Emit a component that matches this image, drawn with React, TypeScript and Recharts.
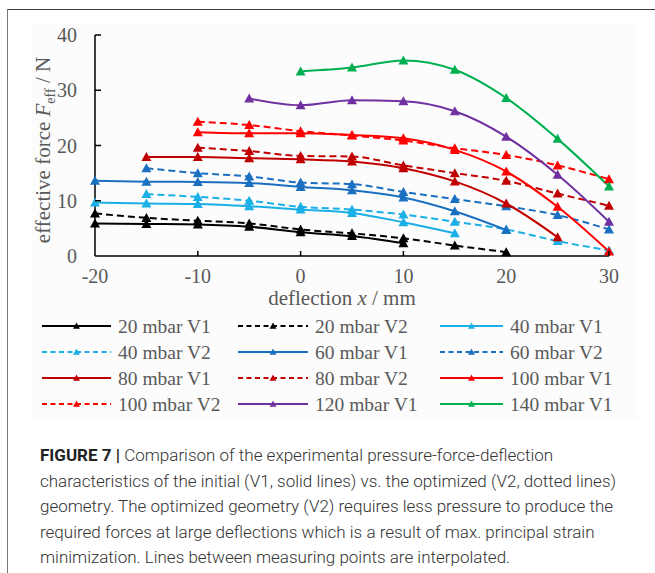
import React from 'react';
import { LineChart, Line, XAxis, YAxis } from 'recharts';

// deflection x in mm
const deflection = [-20, -15, -10, -5, 0, 5, 10, 15, 20, 25, 30];

// effective force in N, null where nothing was measured
const f20V1 = [5.9, 5.8, 5.7, 5.3, 4.3, 3.6, 2.3, null, null, null, null];
const f20V2 = [7.7, 6.9, 6.4, 5.9, 4.8, 4.1, 3.2, 1.9, 0.7, null, null];
const f40V1 = [9.7, 9.5, 9.4, 9.0, 8.4, 7.8, 6.1, 4.1, null, null, null];
const f40V2 = [null, 11.2, 10.7, 10.0, 8.9, 8.4, 7.5, 6.2, 4.8, 2.7, 1.0];
const f60V1 = [13.6, 13.45, 13.4, 13.2, 12.5, 11.9, 10.6, 8.1, 4.7, null, null];
const f60V2 = [null, 15.9, 15.0, 14.4, 13.3, 13.0, 11.6, 10.3, 9.0, 7.4, 4.8];
const f80V1 = [null, 17.9, 17.9, 17.7, 17.5, 17.1, 15.9, 13.5, 9.5, 3.4, null];
const f80V2 = [null, null, 19.6, 19.0, 18.1, 18.0, 16.4, 15.0, 13.6, 11.3, 9.1];
const f100V1 = [null, null, 22.4, 22.2, 22.2, 21.9, 21.3, 19.2, 15.3, 8.9, 0.8];
const f100V2 = [null, null, 24.3, 23.7, 22.6, 21.8, 20.9, 19.5, 18.3, 16.4, 13.9];
const f120V1 = [null, null, null, 28.5, 27.3, 28.2, 28.0, 26.2, 21.6, 14.7, 6.2];
const f140V1 = [null, null, null, null, 33.4, 34.1, 35.4, 33.7, 28.6, 21.2, 12.6];

const xTicks = [-20, -10, 0, 10, 20, 30];
const yTicks = [0, 10, 20, 30, 40];

const series = [
  { key: 's20V1', name: '20 mbar V1', values: f20V1, color: '#000000', dashed: false },
  { key: 's20V2', name: '20 mbar V2', values: f20V2, color: '#000000', dashed: true },
  { key: 's40V1', name: '40 mbar V1', values: f40V1, color: '#1aafe6', dashed: false },
  { key: 's40V2', name: '40 mbar V2', values: f40V2, color: '#1aafe6', dashed: true },
  { key: 's60V1', name: '60 mbar V1', values: f60V1, color: '#1b6fc0', dashed: false },
  { key: 's60V2', name: '60 mbar V2', values: f60V2, color: '#1b6fc0', dashed: true },
  { key: 's80V1', name: '80 mbar V1', values: f80V1, color: '#c00000', dashed: false },
  { key: 's80V2', name: '80 mbar V2', values: f80V2, color: '#c00000', dashed: true },
  { key: 's100V1', name: '100 mbar V1', values: f100V1, color: '#ff0000', dashed: false },
  { key: 's100V2', name: '100 mbar V2', values: f100V2, color: '#ff0000', dashed: true },
  { key: 's120V1', name: '120 mbar V1', values: f120V1, color: '#7030a0', dashed: false },
  { key: 's140V1', name: '140 mbar V1', values: f140V1, color: '#00b050', dashed: false },
];

const chartData = deflection.map((x, i) => {
  const row: Record<string, number | null> = { x };
  series.forEach((s) => {
    row[s.key] = s.values[i];
  });
  return row;
});

const serif = '"Liberation Serif", "DejaVu Serif", serif';
const grey = '#595959';

const Triangle = (props: any) => {
  const { cx, cy, fill, size = 5 } = props;
  if (cx == null || cy == null) return null;
  return (
    <polygon
      points={`${cx},${cy - size} ${cx - size},${cy + size * 0.8} ${cx + size},${cy + size * 0.8}`}
      fill={fill}
    />
  );
};

const XTick = (props: any) => {
  const { x, y, payload } = props;
  return (
    <g>
      {payload.value !== -20 && <line x1={x} y1={y} x2={x} y2={y - 5} stroke="#000" strokeWidth={1.5} />}
      <text x={x} y={y + 27} textAnchor="middle" fontFamily={serif} fontSize={20} fill={grey}>
        {payload.value}
      </text>
    </g>
  );
};

const YTick = (props: any) => {
  const { x, y, payload } = props;
  return (
    <g>
      {payload.value !== 0 && <line x1={x} y1={y} x2={x + 6} y2={y} stroke="#000" strokeWidth={1.5} />}
      <text x={x - 18} y={y + 7} textAnchor="end" fontFamily={serif} fontSize={20} fill={grey}>
        {payload.value}
      </text>
    </g>
  );
};

const legendCols = [
  { line: 42, text: 118 },
  { line: 238, text: 315 },
  { line: 440, text: 510 },
];
const legendRows = [326, 352, 378, 404];

export default function App() {
  return (
    <div style={{ position: 'fixed', left: 0, top: 0, width: 655, height: 573, background: '#fff', overflow: 'hidden' }}>
      {/* frame */}
      <div style={{ position: 'absolute', left: 7, top: 9, width: 648, height: 0, borderTop: '1.5px solid #3a3a3a' }} />
      <div style={{ position: 'absolute', left: 7, top: 9, width: 0, height: 564, borderLeft: '1.5px solid #777' }} />
      <div style={{ position: 'absolute', left: 32, top: 23, width: 605, height: 397, background: '#fcfcfc' }} />

      <div style={{ position: 'absolute', left: 0, top: 0 }}>
        <LineChart width={655} height={300} data={chartData} margin={{ top: 35, right: 46, left: 0, bottom: 14 }}>
          <XAxis
            dataKey="x"
            type="number"
            domain={[-20, 30]}
            ticks={xTicks}
            height={30}
            tickSize={0}
            tickMargin={0}
            tickLine={false}
            axisLine={{ stroke: '#000', strokeWidth: 1.5 }}
            tick={<XTick />}
            interval={0}
          />
          <YAxis
            type="number"
            domain={[0, 40]}
            ticks={yTicks}
            width={95}
            tickSize={0}
            tickMargin={0}
            tickLine={false}
            axisLine={{ stroke: '#000', strokeWidth: 1.5 }}
            tick={<YTick />}
            interval={0}
          />
          {series.map((s) => (
            <Line
              key={s.key}
              dataKey={s.key}
              type="monotone"
              stroke={s.color}
              strokeWidth={2}
              strokeDasharray={s.dashed ? '7 4' : undefined}
              dot={<Triangle fill={s.color} size={5} />}
              activeDot={false}
              isAnimationActive={false}
            />
          ))}
        </LineChart>
      </div>

      {/* axis titles */}
      <svg style={{ position: 'absolute', left: 0, top: 0 }} width={655} height={573}>
        <text
          transform="translate(50,150) rotate(-90)"
          textAnchor="middle"
          fontFamily={serif}
          fontSize={21}
          fill={grey}
        >
          effective force <tspan fontStyle="italic">F</tspan>
          <tspan fontSize={14} dy={5}>eff</tspan>
          <tspan dy={-5}> / N</tspan>
        </text>
        <text x={342} y={305} textAnchor="middle" fontFamily={serif} fontSize={21} fill={grey}>
          deflection <tspan fontStyle="italic">x</tspan> / mm
        </text>

        {/* legend */}
        {series.map((s, i) => {
          const col = legendCols[i % 3];
          const y = legendRows[Math.floor(i / 3)];
          const end = col.text - 7;
          const mid = (col.line + end) / 2;
          return (
            <g key={s.key}>
              <line
                x1={col.line}
                y1={y}
                x2={end}
                y2={y}
                stroke={s.color}
                strokeWidth={2}
                strokeDasharray={s.dashed ? '5 3.5' : undefined}
              />
              <Triangle cx={mid} cy={y} fill={s.color} size={3.5} />
              <text x={col.text} y={y + 7} fontFamily={serif} fontSize={19.5} fill={grey}>
                {s.name}
              </text>
            </g>
          );
        })}
      </svg>

      {/* caption */}
      <div
        style={{
          position: 'absolute',
          left: 40,
          top: 443,
          width: 600,
          fontFamily: 'Roboto, "Liberation Sans", sans-serif',
          fontWeight: 300,
          fontSize: 17,
          lineHeight: '25.5px',
          color: '#333',
        }}
      >
        <span style={{ fontWeight: 700, color: '#222' }}>FIGURE 7 |</span> Comparison of the experimental pressure-force-deflection
        <br />
        characteristics of the initial (V1, solid lines) vs. the optimized (V2, dotted lines)
        <br />
        geometry. The optimized geometry (V2) requires less pressure to produce the
        <br />
        required forces at large deflections which is a result of max. principal strain
        <br />
        minimization. Lines between measuring points are interpolated.
      </div>
    </div>
  );
}
